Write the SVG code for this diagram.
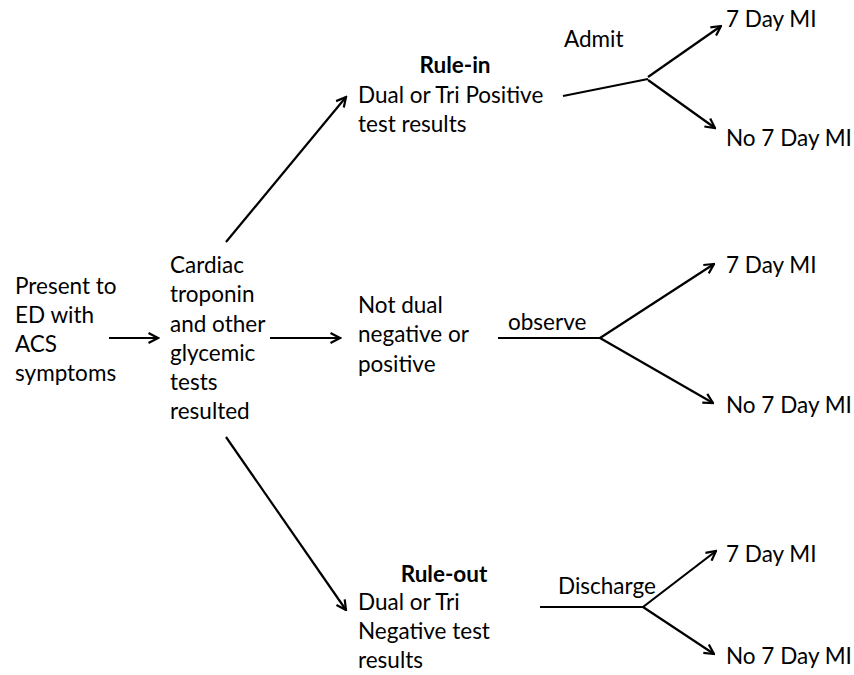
<svg xmlns="http://www.w3.org/2000/svg" width="854" height="675" viewBox="0 0 854 675">
<style>
text{font-family:Lato,"Open Sans","Liberation Sans",sans-serif;font-size:22.5px;fill:#000}
.b{font-weight:bold}
.c{stroke:#000;stroke-width:2.2;fill:none}
</style>
<defs>
<marker id="ah" viewBox="0 0 12 12" refX="10.5" refY="6" markerWidth="12" markerHeight="12" markerUnits="userSpaceOnUse" orient="auto">
<path d="M1,1 L10.5,6 L1,11" fill="none" stroke="#000" stroke-width="2.2"/>
</marker>
</defs>
<rect width="854" height="675" fill="#fff"/>
<g id="connectors">
<line class="c" x1="109" y1="338" x2="158" y2="338" marker-end="url(#ah)"/>
<line class="c" x1="226" y1="242" x2="346" y2="97" marker-end="url(#ah)"/>
<line class="c" x1="270" y1="338" x2="340" y2="338" marker-end="url(#ah)"/>
<line class="c" x1="226" y1="437" x2="346" y2="610" marker-end="url(#ah)"/>
<line class="c" x1="563" y1="96" x2="648" y2="79"/>
<line class="c" x1="648" y1="77" x2="721" y2="26" marker-end="url(#ah)"/>
<line class="c" x1="648" y1="80" x2="715" y2="128" marker-end="url(#ah)"/>
<line class="c" x1="498" y1="338" x2="600" y2="338"/>
<line class="c" x1="600" y1="338" x2="714" y2="264" marker-end="url(#ah)"/>
<line class="c" x1="600" y1="338" x2="713" y2="403" marker-end="url(#ah)"/>
<line class="c" x1="540" y1="607" x2="643" y2="607"/>
<line class="c" x1="643" y1="607" x2="716" y2="551" marker-end="url(#ah)"/>
<line class="c" x1="643" y1="607" x2="714" y2="654" marker-end="url(#ah)"/>
</g>
<g id="present">
<text x="15" y="294">Present to</text>
<text x="15" y="323">ED with</text>
<text x="15" y="352">ACS</text>
<text x="15" y="381">symptoms</text>
</g>
<g id="cardiac">
<text x="170" y="273">Cardiac</text>
<text x="170" y="302">troponin</text>
<text x="170" y="332">and other</text>
<text x="170" y="361">glycemic</text>
<text x="170" y="390">tests</text>
<text x="170" y="419">resulted</text>
</g>
<g id="rulein">
<text class="b" x="455" y="73" text-anchor="middle">Rule-in</text>
<text x="358" y="103">Dual or Tri Positive</text>
<text x="358" y="132">test results</text>
</g>
<g id="admit"><text x="564" y="47">Admit</text></g>
<g id="mi1"><text x="726" y="27">7 Day MI</text></g>
<g id="nomi1"><text x="726" y="146">No 7 Day MI</text></g>
<g id="notdual">
<text x="358" y="313">Not dual</text>
<text x="358" y="342">negative or</text>
<text x="358" y="372">positive</text>
</g>
<g id="observe"><text x="508" y="330">observe</text></g>
<g id="mi2"><text x="726" y="273">7 Day MI</text></g>
<g id="nomi2"><text x="726" y="413">No 7 Day MI</text></g>
<g id="ruleout">
<text class="b" x="444" y="582" text-anchor="middle">Rule-out</text>
<text x="358" y="610">Dual or Tri</text>
<text x="358" y="639">Negative test</text>
<text x="358" y="668">results</text>
</g>
<g id="discharge"><text x="558" y="594">Discharge</text></g>
<g id="mi3"><text x="726" y="562">7 Day MI</text></g>
<g id="nomi3"><text x="726" y="664">No 7 Day MI</text></g>
</svg>
